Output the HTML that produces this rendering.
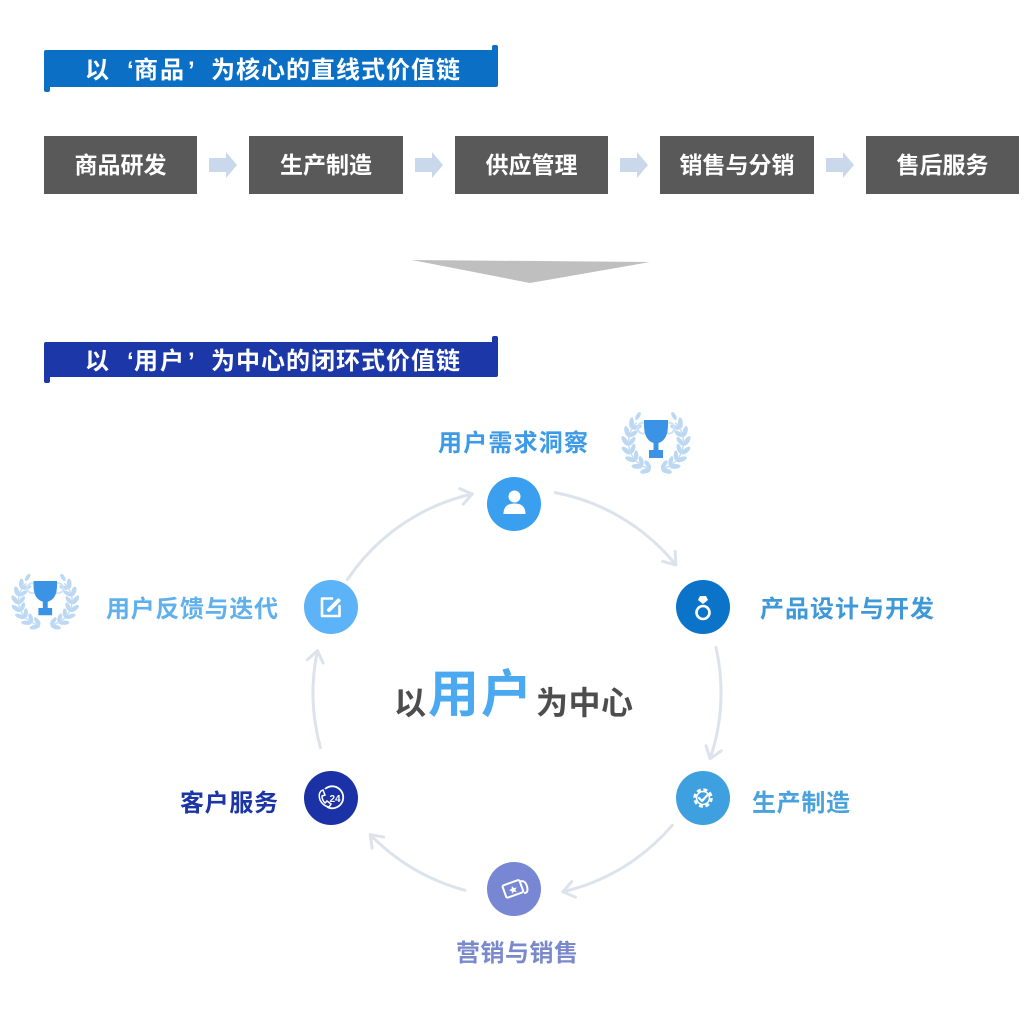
<!DOCTYPE html>
<html>
<head>
<meta charset="utf-8">
<style>
  html,body{margin:0;padding:0;background:#fff;}
  body{width:1031px;height:1021px;overflow:hidden;}
  svg{display:block;}
  .t{font-family:"Liberation Sans","Noto Sans CJK SC",sans-serif;font-weight:700;}
</style>
</head>
<body>
<svg width="1031" height="1021" viewBox="0 0 1031 1021" xmlns="http://www.w3.org/2000/svg">
  <defs>
    <marker id="ah" markerWidth="30" markerHeight="30" refX="0" refY="0" orient="auto" markerUnits="userSpaceOnUse" viewBox="-15 -15 30 30">
      <path d="M-11,-8 L0,0 L-11,8" fill="none" stroke="#dde3ec" stroke-width="3" stroke-linecap="round" stroke-linejoin="round"/>
    </marker>
    <g id="laurel">
      <g id="lhalf">
        <path d="M28.9,58.6 A27.5,27.5 0 0 1 16.6,12.6" fill="none" stroke="#c4ddf4" stroke-width="1.5"/>
        <g fill="#bcd8f2">
          <ellipse cx="25.4" cy="61.1" rx="5.5" ry="2.4" transform="rotate(165 25.4 61.1)"/>
          <ellipse cx="16.9" cy="56.4" rx="5.5" ry="2.4" transform="rotate(183 16.9 56.4)"/>
          <ellipse cx="10.3" cy="49.3" rx="5.5" ry="2.4" transform="rotate(201 10.3 49.3)"/>
          <ellipse cx="6.2" cy="40.6" rx="5.5" ry="2.4" transform="rotate(219 6.2 40.6)"/>
          <ellipse cx="5.0" cy="30.9" rx="5.5" ry="2.4" transform="rotate(237 5.0 30.9)"/>
          <ellipse cx="6.9" cy="21.4" rx="5.5" ry="2.4" transform="rotate(255 6.9 21.4)"/>
          <ellipse cx="11.6" cy="12.9" rx="5.5" ry="2.4" transform="rotate(273 11.6 12.9)"/>
          <ellipse cx="27.8" cy="54.6" rx="5" ry="2.2" transform="rotate(235 27.8 54.6)"/>
          <ellipse cx="21.2" cy="50.9" rx="5" ry="2.2" transform="rotate(253 21.2 50.9)"/>
          <ellipse cx="16.1" cy="45.4" rx="5" ry="2.2" transform="rotate(271 16.1 45.4)"/>
          <ellipse cx="12.9" cy="38.6" rx="5" ry="2.2" transform="rotate(289 12.9 38.6)"/>
          <ellipse cx="12.0" cy="31.2" rx="5" ry="2.2" transform="rotate(307 12.0 31.2)"/>
          <ellipse cx="13.4" cy="23.8" rx="5" ry="2.2" transform="rotate(325 13.4 23.8)"/>
          <ellipse cx="17.1" cy="17.2" rx="5" ry="2.2" transform="rotate(343 17.1 17.2)"/>
          <ellipse cx="18" cy="6" rx="4.5" ry="2" transform="rotate(300 18 6)"/>
        </g>
      </g>
      <use href="#lhalf" transform="translate(72,0) scale(-1,1)"/>
      <circle cx="23" cy="18" r="5.5" fill="none" stroke="#cfe3f6" stroke-width="2"/>
      <circle cx="49" cy="18" r="5.5" fill="none" stroke="#cfe3f6" stroke-width="2"/>
      <path d="M24,10 H48 V15 Q48,30 38.5,33 V40 H43 V48 H29 V40 H33.5 V33 Q24,30 24,15 Z" fill="#3a93e5"/>
    </g>
  </defs>

  <!-- Banner 1 -->
  <path d="M44,52 Q44,50 46,50 H492 V47 Q492,45 494,45 H496 Q498,45 498,47 V85 Q498,87 496,87 H50 V90 Q50,92 48,92 H46 Q44,92 44,90 Z" fill="#0b6fc6"/>
  <text class="t" y="78" font-size="24" fill="#fff">
    <tspan x="85">以</tspan><tspan x="127">‘</tspan><tspan x="134">商</tspan><tspan x="160">品</tspan><tspan x="188">’</tspan>
  </text>
  <text class="t" x="211" y="78" font-size="24" fill="#fff" textLength="249">为核心的直线式价值链</text>

  <!-- Gray boxes -->
  <g fill="#595959">
    <rect x="44" y="136" width="153" height="58"/>
    <rect x="249" y="136" width="154" height="58"/>
    <rect x="455" y="136" width="153" height="58"/>
    <rect x="660" y="136" width="154" height="58"/>
    <rect x="866" y="136" width="153" height="58"/>
  </g>
  <g class="t" font-size="23" fill="#fff" text-anchor="middle">
    <text x="120.5" y="173">商品研发</text>
    <text x="326" y="173">生产制造</text>
    <text x="531.5" y="173">供应管理</text>
    <text x="737" y="173">销售与分销</text>
    <text x="942.5" y="173">售后服务</text>
  </g>
  <!-- small arrows -->
  <g fill="#c9d8ea">
    <path d="M209,158 H226 V152 L237,165 L226,178 V172 H209 Z"/>
    <path d="M415,158 H432 V152 L443,165 L432,178 V172 H415 Z"/>
    <path d="M620,158 H637 V152 L648,165 L637,178 V172 H620 Z"/>
    <path d="M826,158 H843 V152 L854,165 L843,178 V172 H826 Z"/>
  </g>

  <!-- big gray triangle -->
  <polygon points="412,260 650,262 530,283" fill="#bfbfbf"/>

  <!-- Banner 2 -->
  <path d="M44,344 Q44,342 46,342 H492 V338 Q492,336 494,336 H496 Q498,336 498,338 V375 Q498,377 496,377 H50 V381 Q50,383 48,383 H46 Q44,383 44,381 Z" fill="#1b37a8"/>
  <text class="t" y="369" font-size="24" fill="#fff">
    <tspan x="85">以</tspan><tspan x="127">‘</tspan><tspan x="134">用</tspan><tspan x="160">户</tspan><tspan x="188">’</tspan>
  </text>
  <text class="t" x="211" y="369" font-size="24" fill="#fff" textLength="249">为中心的闭环式价值链</text>

  <!-- arcs -->
  <g fill="none" stroke="#dde3ec" stroke-width="3" stroke-linecap="round" marker-end="url(#ah)">
    <path d="M347.5,579.5 A204,204 0 0 1 472.2,494.0"/>
    <path d="M555.2,492.6 A204,204 0 0 1 675.8,564.9"/>
    <path d="M715.9,647.4 A204,204 0 0 1 710.1,758.7"/>
    <path d="M672.3,825.2 A204,204 0 0 1 562.9,891.8"/>
    <path d="M464.9,890.2 A204,204 0 0 1 370.3,834.7"/>
    <path d="M320.4,747.5 A204,204 0 0 1 317.5,650.6"/>
  </g>

  <!-- nodes -->
  <circle cx="514" cy="504" r="27" fill="#3b9ff0"/>
  <circle cx="703" cy="607" r="27" fill="#0b74c9"/>
  <circle cx="703" cy="798" r="27" fill="#3fa0e0"/>
  <circle cx="514" cy="889" r="27" fill="#7887d4"/>
  <circle cx="331" cy="798" r="27" fill="#1a32a6"/>
  <circle cx="331" cy="607" r="27" fill="#5cb3f7"/>

  <!-- icons -->
  <g fill="#fff">
    <circle cx="514.5" cy="496.5" r="6"/>
    <path d="M503.5,514 Q503.5,503.5 514.5,503.5 Q525.5,503.5 525.5,514 Z"/>
  </g>
  <g>
    <path d="M700,596 H706 L708,600 L703,604 L698,600 Z" fill="#fff"/>
    <circle cx="703" cy="612.5" r="6.5" fill="none" stroke="#fff" stroke-width="2.6"/>
  </g>
  <g stroke="#fff" fill="none">
    <circle cx="703" cy="798" r="8.5" stroke-width="2.5" stroke-dasharray="4 2.7"/>
    <circle cx="703" cy="798" r="6.5" stroke-width="1.6"/>
    <path d="M699,798 L702,801 L707.5,795" stroke-width="2.2" stroke-linecap="round" stroke-linejoin="round"/>
  </g>
  <g transform="rotate(-20 514 889)" fill="none" stroke="#fff" stroke-width="2">
    <rect x="504" y="882" width="18" height="13" rx="1.5"/>
    <path d="M522,884 Q528,884 527,892 Q526,898 522,896" />
    <path d="M513,885.5 l1.2,2.6 2.8,0.3 -2.1,1.8 0.7,2.7 -2.6,-1.5 -2.6,1.5 0.7,-2.7 -2.1,-1.8 2.8,-0.3 Z" fill="#fff" stroke="none"/>
  </g>
  <g fill="none" stroke="#fff" stroke-width="1.8">
    <path d="M325,789 A11,11 0 1 1 327,807"/>
    <path d="M321,791 Q318,794 320,800 Q323,806 329,807 L331,804 L327,801 L325,803 Q322,800 322,796 L325,795 L323,790 Z" stroke-width="1.5"/>
  </g>
  <text x="335" y="802" font-family="Liberation Sans, sans-serif" font-size="10" font-weight="700" fill="#fff" text-anchor="middle">24</text>
  <g fill="none" stroke="#fff" stroke-linecap="round" stroke-linejoin="round">
    <path d="M332,598.5 H322 V616 H339.5 V606" stroke-width="2.6"/>
    <path d="M329,610 L338.5,600.5" stroke-width="4"/>
  </g>

  <!-- laurels -->
  <use href="#laurel" transform="translate(620,410)"/>
  <use href="#laurel" transform="translate(10,572) scale(0.98,0.9)"/>

  <!-- node labels -->
  <g class="t" font-size="24">
    <text x="438" y="451" fill="#3d9ae6" textLength="150">用户需求洞察</text>
    <text x="760" y="617" fill="#3f98d8" textLength="174">产品设计与开发</text>
    <text x="752" y="811" fill="#4aa2dc" textLength="98">生产制造</text>
    <text x="456" y="961" fill="#7a88cc" textLength="122">营销与销售</text>
    <text x="180" y="811" fill="#1c35a4" textLength="98">客户服务</text>
    <text x="106" y="617" fill="#5fb0ec" textLength="172">用户反馈与迭代</text>
  </g>

  <!-- center text -->
  <g class="t">
    <text x="394" y="714" font-size="32" fill="#4d4d4d">以</text>
    <text x="428" y="712" font-size="51" fill="#4aa9f0" textLength="104">用户</text>
    <text x="536" y="714" font-size="32" fill="#4d4d4d" textLength="97">为中心</text>
  </g>
</svg>
</body>
</html>
